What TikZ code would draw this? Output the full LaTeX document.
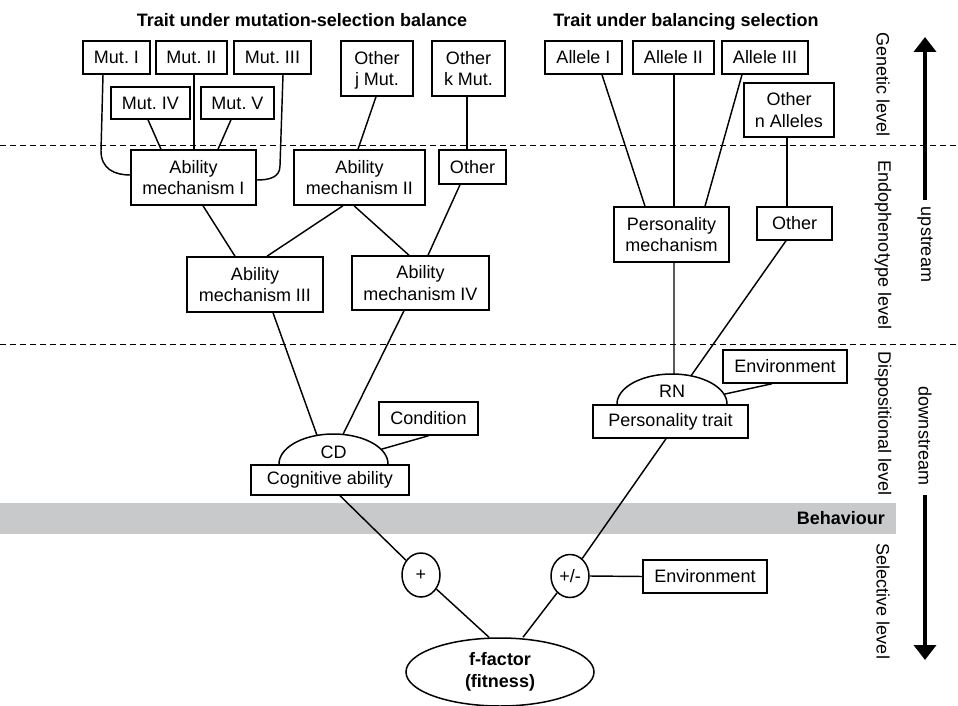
\documentclass[tikz,border=0pt]{standalone}
\usepackage{fontspec}
\setmainfont{Liberation Sans}
\usetikzlibrary{arrows.meta,calc,shapes.geometric}
\definecolor{bandgray}{RGB}{200,201,203}
\newcommand\myfs{\fontsize{18}{21.5}\selectfont}
\frenchspacing
\begin{document}
\begin{tikzpicture}[x=1pt,y=-1pt,
 box/.style={draw,line width=1.5pt,inner sep=0pt,align=center,font=\myfs},
 oval/.style={draw,ellipse,line width=1.5pt,inner sep=0pt,align=center,font=\myfs},
 link/.style={line width=1.45pt},
 levelline/.style={dash pattern=on 6pt off 4pt, line width=0.9pt},
 lbl/.style={font=\myfs, inner sep=0pt},
 ttl/.style={font=\myfs\bfseries, inner sep=0pt},
 side/.style={font=\myfs, rotate=-90, inner sep=0pt},
 bigarrow/.style={line width=4pt, -{Triangle[width=22pt,length=15pt]}}]
\useasboundingbox (0,0) rectangle (958,706);
% band and level lines
\fill[bandgray] (0,503) rectangle (896,534);
\draw[levelline] (0,145) -- (958,145);
\draw[levelline] (0,344) -- (958,344);
% titles
\node[ttl, anchor=base] (t1) at (302,27) {Trait under mutation-selection balance};
\node[ttl, anchor=base] (t2) at (686,26.5) {Trait under balancing selection};
\node[ttl, anchor=east] (beh) at (885,518) {Behaviour};
% side labels
\node[side] (gen) at (883,84.5) {Genetic level};
\node[side] (endo) at (883,245) {Endophenotype level};
\node[side] (disp) at (883,423.5) {Dispositional level};
\node[side] (sel) at (883,601.5) {Selective level};
\node[side] (ups) at (925,244.5) {upstream};
\node[side] (dns) at (925,436) {downstream};
\coordinate (ub) at (925,200); \coordinate (ut) at (925,37);
\coordinate (db) at (925,495); \coordinate (dt) at (925,660);
\draw[bigarrow] (ub) -- (ut);
\draw[bigarrow] (db) -- (dt);
% left tree
\node[box, minimum width=67pt, minimum height=33pt] (mut1) at (116.5,57.5) {Mut. I};
\node[box, minimum width=71pt, minimum height=33pt] (mut2) at (191.5,57.5) {Mut. II};
\node[box, minimum width=77pt, minimum height=33pt] (mut3) at (272.5,57.5) {Mut. III};
\node[box, minimum width=79pt, minimum height=32pt] (mut4) at (150.5,103) {Mut. IV};
\node[box, minimum width=73pt, minimum height=32pt] (mut5) at (237.5,103) {Mut. V};
\node[box, minimum width=72pt, minimum height=55pt] (otherj) at (377,68.5) {Other\\\smash{j} Mut.};
\node[box, minimum width=73pt, minimum height=55pt] (otherk) at (468.5,68.5) {Other\\k Mut.};
\node[box, minimum width=125pt, minimum height=55pt] (am1) at (193.5,177.5) {Ability\\mechanism I};
\node[box, minimum width=131pt, minimum height=55pt] (am2) at (359.5,177.5) {Ability\\mechanism II};
\node[box, minimum width=67pt, minimum height=34pt] (otherL) at (472.5,167) {Other};
\node[box, minimum width=136pt, minimum height=55pt] (am3) at (255,284.5) {Ability\\mechanism III};
\node[box, minimum width=137pt, minimum height=54pt] (am4) at (420.5,283) {Ability\\mechanism IV};
\node[box, minimum width=158pt, minimum height=30pt] (cog) at (330,480) {Cognitive ability};
\node[box, minimum width=99pt, minimum height=33pt] (cond) at (428.5,418.5) {Condition};
\coordinate (cdc) at (333.5,464);
\draw[line width=1.5pt] plot[domain=180:360, samples=60] ({333.5+54.5*cos(\x)}, {464+30*sin(\x)});
\node[lbl] (cd) at (333.5,452) {CD};
\coordinate (cdA) at ($(cdc)+(-107.6:54.5 and 30)$);
\coordinate (cdB) at ($(cdc)+(-80:54.5 and 30)$);
\coordinate (cdC) at ($(cdc)+(-29.3:54.5 and 30)$);
% left connectors
\draw[link] ([xshift=-13.5]mut1.south) -- ++(-2,76) .. controls +(0,18) and +(-16,0) .. ([yshift=2.5]am1.west);
\draw[link] ([xshift=10.5]mut3.south) -- ++(-3,91) .. controls +(0,12) and +(12,0) .. ([yshift=-2.5]am1.east);
\draw[link] ([xshift=2.5]mut2.south) -- ([xshift=0.5]am1.north);
\draw[link] ([xshift=-2.5]mut4.south) -- ([xshift=-32.5]am1.north);
\draw[link] ([xshift=-6.5]mut5.south) -- ([xshift=24.5]am1.north);
\draw[link] ([xshift=-1]otherj.south) -- ([xshift=-1.5]am2.north);
\draw[link] ([xshift=-1.5]otherk.south) -- ([xshift=-5.5]otherL.north);
\draw[link] ([xshift=9.5]am1.south) -- ([xshift=-20]am3.north);
\draw[link] ([xshift=-16.5]am2.south) -- ([xshift=12]am3.north);
\draw[link] ([xshift=-5.5]am2.south) -- ([xshift=-11.5]am4.north);
\draw[link] ([xshift=-12.5]otherL.south) -- ([xshift=7.5]am4.north);
\draw[link] ([xshift=18]am3.south) -- (cdA);
\draw[link] ([xshift=-16.5]am4.south) -- (cdB);
\draw[link] (cond.south) -- (cdC);
% right tree
\node[box, minimum width=77pt, minimum height=33pt] (al1) at (583.5,57.5) {Allele I};
\node[box, minimum width=81pt, minimum height=33pt] (al2) at (673.5,57.5) {Allele II};
\node[box, minimum width=86pt, minimum height=33pt] (al3) at (765,57.5) {Allele III};
\node[box, minimum width=90pt, minimum height=54pt] (othern) at (789,110) {Other\\n Alleles};
\node[box, minimum width=115pt, minimum height=55pt] (pmech) at (671.5,234.5) {Personality\\mechanism};
\node[box, minimum width=75pt, minimum height=33pt] (otherR) at (794.5,223.5) {Other};
\node[box, minimum width=155pt, minimum height=33pt] (ptrait) at (670.5,421.5) {Personality trait};
\node[box, minimum width=124pt, minimum height=33pt] (envT) at (785,366.5) {Environment};
\coordinate (rnc) at (672,404);
\draw[line width=1.5pt] plot[domain=180:360, samples=60] ({672+55*cos(\x)}, {404+30*sin(\x)});
\node[lbl] (rn) at (672,391) {RN};
\coordinate (rnA) at ($(rnc)+(-87.9:55 and 30)$);
\coordinate (rnB) at ($(rnc)+(-69.8:55 and 30)$);
\coordinate (rnC) at ($(rnc)+(-19:55 and 30)$);
\draw[link] ([xshift=18.5]al1.south) -- ([xshift=-26.5]pmech.north);
\draw[link] ([xshift=0.5]al2.south) -- ([xshift=2.5]pmech.north);
\draw[link] ([xshift=-23]al3.south) -- ([xshift=33.5]pmech.north);
\draw[link] ([xshift=-2]othern.south) -- ([xshift=-7.5]otherR.north);
\draw[link] ([xshift=2.5]pmech.south) -- (rnA);
\draw[link] ([xshift=-8.5]otherR.south) -- (rnB);
\draw[link] ([xshift=-13]envT.south) -- (rnC);
% selective level
\node[oval, minimum width=38pt, minimum height=44pt] (plus) at (421,575) {+};
\node[oval, minimum width=38pt, minimum height=43pt] (pmn) at (570,576) {+/-};
\node[box, minimum width=124pt, minimum height=33pt] (envB) at (705,576.5) {Environment};
\node[oval, minimum width=188pt, minimum height=68pt, font=\myfs\bfseries] (fit) at (500,672) {f-factor\\(fitness)};
\draw[link] ([xshift=10]cog.south) -- (plus);
\draw[link] ([xshift=-4.5]ptrait.south) -- (pmn);
\draw[link] (pmn.east) -- (envB.west);
\draw[link] (plus) -- ([xshift=-11]fit.north);
\draw[link] (pmn) -- ([xshift=23]fit.north);
\end{tikzpicture}
\end{document}
